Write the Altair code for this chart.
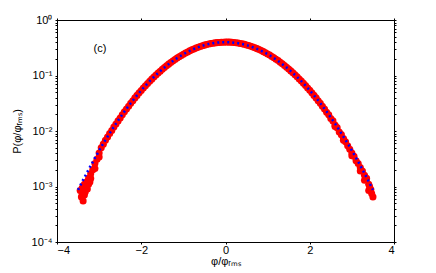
import altair as alt
import pandas as pd

# red measured points (x = phi/phi_rms, y = PDF)
red_x = [-3.45, -3.42, -3.40, -3.38, -3.35, -3.33, -3.30, -3.28, -3.25, -3.22, -3.20, -3.15, -3.10, -3.05,
         -3.00, -2.95, -2.90, -2.85, -2.80, -2.70, -2.60, -2.50, -2.40, -2.30, -2.20, -2.10, -2.00,
         -1.90, -1.80, -1.70, -1.60, -1.50, -1.40, -1.30, -1.20, -1.10, -1.00, -0.90, -0.80, -0.70,
         -0.60, -0.50, -0.40, -0.30, -0.20, -0.10, 0.00, 0.10, 0.20, 0.30, 0.40, 0.50, 0.60, 0.70,
         0.80, 0.90, 1.00, 1.10, 1.20, 1.30, 1.40, 1.50, 1.60, 1.70, 1.80, 1.90, 2.00, 2.10, 2.20,
         2.30, 2.40, 2.50, 2.60, 2.65, 2.70, 2.75, 2.80, 2.85, 2.90, 2.95, 3.00, 3.05, 3.10, 3.15,
         3.20, 3.25, 3.30, 3.35, 3.40, 3.42, 3.45, 3.47, 3.50,
         -3.40, -3.35, -3.30, -3.25, -3.20, -3.10, -3.00, 2.60, 2.80, 3.00, 3.20, 3.30, 3.40,
         -2.75, -2.65, -2.55, -2.45, -2.35, -2.25, -2.15, -2.05, -1.95, -1.85, -1.75, -1.65, -1.55,
         -1.45, -1.35, -1.25, -1.15, -1.05, -0.95, -0.85, -0.75, -0.65, -0.55, -0.45, -0.35, -0.25,
         -0.15, -0.05, 0.05, 0.15, 0.25, 0.35, 0.45, 0.55, 0.65, 0.75, 0.85, 0.95, 1.05, 1.15, 1.25,
         1.35, 1.45, 1.55, 1.65, 1.75, 1.85, 1.95, 2.05, 2.15, 2.25, 2.35, 2.45, 2.55]
red_y = [0.00085, 0.00065, 0.00095, 0.00055, 0.0011, 0.0008, 0.0012, 0.0009, 0.0014, 0.0012, 0.0017, 0.0020, 0.0026, 0.0031,
         0.0040, 0.0050, 0.0058, 0.0068, 0.0078, 0.0102, 0.0134, 0.0172, 0.0222, 0.0280, 0.0352, 0.0438, 0.0538,
         0.0652, 0.0788, 0.0938, 0.1105, 0.1292, 0.1495, 0.1712, 0.1940, 0.2178, 0.2420, 0.2660, 0.2898, 0.3125,
         0.3335, 0.3525, 0.3688, 0.3820, 0.3915, 0.3975, 0.3995, 0.3990, 0.3935, 0.3845, 0.3715, 0.3555, 0.3365,
         0.3155, 0.2930, 0.2690, 0.2448, 0.2205, 0.1965, 0.1735, 0.1515, 0.1310, 0.1122, 0.0950, 0.0795, 0.0658,
         0.0540, 0.0438, 0.0352, 0.0280, 0.0218, 0.0168, 0.0128, 0.0115, 0.0096, 0.0086, 0.0073, 0.0064, 0.0054,
         0.0047, 0.0040, 0.0035, 0.0029, 0.0026, 0.0022, 0.0019, 0.0016, 0.0014, 0.0011, 0.0010, 0.00088, 0.00075, 0.00065,
         0.00075, 0.00070, 0.00095, 0.0011, 0.0014, 0.0021, 0.0034, 0.0120, 0.0068, 0.0036, 0.0019, 0.0013, 0.00085,
         0.0090, 0.0118, 0.0152, 0.0196, 0.0250, 0.0316, 0.0395, 0.0488, 0.0594, 0.0718, 0.0860, 0.1020, 0.1197,
         0.1393, 0.1603, 0.1826, 0.2059, 0.2299, 0.2541, 0.2780, 0.3013, 0.3231, 0.3430, 0.3607, 0.3755, 0.3868,
         0.3945, 0.3985, 0.3995, 0.3965, 0.3895, 0.3785, 0.3640, 0.3465, 0.3262, 0.3045, 0.2812, 0.2572, 0.2330,
         0.2090, 0.1855, 0.1628, 0.1410, 0.1210, 0.1030, 0.0866, 0.0722, 0.0595, 0.0488, 0.0395, 0.0315, 0.0250, 0.0196, 0.0152]

# blue dotted reference curve
blue_x = [-3.5, -3.4, -3.3, -3.2, -3.1, -3.0, -2.9, -2.8, -2.7, -2.6, -2.5, -2.4, -2.3, -2.2, -2.1,
          -2.0, -1.9, -1.8, -1.7, -1.6, -1.5, -1.4, -1.3, -1.2, -1.1, -1.0, -0.9, -0.8, -0.7, -0.6,
          -0.5, -0.4, -0.3, -0.2, -0.1, 0.0, 0.1, 0.2, 0.3, 0.4, 0.5, 0.6, 0.7, 0.8, 0.9, 1.0, 1.1,
          1.2, 1.3, 1.4, 1.5, 1.6, 1.7, 1.8, 1.9, 2.0, 2.1, 2.2, 2.3, 2.4, 2.5, 2.6, 2.7, 2.8, 2.9,
          3.0, 3.1, 3.2, 3.3, 3.4, 3.5]
blue_y = [0.00087, 0.00123, 0.00172, 0.00238, 0.00327, 0.00443, 0.0060, 0.0079, 0.0104, 0.0136, 0.0175,
          0.0224, 0.0283, 0.0355, 0.0440, 0.0540, 0.0656, 0.0790, 0.0940, 0.1109, 0.1295, 0.1497, 0.1714,
          0.1942, 0.2179, 0.2420, 0.2661, 0.2897, 0.3123, 0.3332, 0.3521, 0.3683, 0.3814, 0.3910, 0.3970,
          0.3989, 0.3970, 0.3910, 0.3814, 0.3683, 0.3521, 0.3332, 0.3123, 0.2897, 0.2661, 0.2420, 0.2179,
          0.1942, 0.1714, 0.1497, 0.1295, 0.1109, 0.0940, 0.0790, 0.0656, 0.0540, 0.0440, 0.0355, 0.0283,
          0.0224, 0.0175, 0.0136, 0.0104, 0.0079, 0.0060, 0.00443, 0.00327, 0.00238, 0.00172, 0.00123, 0.00087]

x_ticks = [-4, -2, 0, 2, 4]
y_ticks = [0.0001, 0.001, 0.01, 0.1, 1]
y_minor = [m * d for d in [0.0001, 0.001, 0.01, 0.1] for m in range(1, 10)] + [1]

label_text = ["(c)"]
label_x = [-2.98]
label_y = [0.30]

FONT = "Liberation Sans"

red_df = pd.DataFrame({"x": red_x, "y": red_y})
blue_df = pd.DataFrame({"x": blue_x, "y": blue_y})
lab_df = pd.DataFrame({"t": label_text, "x": label_x, "y": label_y})

xscale = alt.Scale(domain=[-4, 4], nice=False, zero=False)
yscale = alt.Scale(type="log", domain=[0.0001, 1], nice=False)

ylab = ("datum.value == 1 ? '10\u2070' : datum.value == 0.1 ? '10\u207b\u00b9' : "
        "datum.value == 0.01 ? '10\u207b\u00b2' : datum.value == 0.001 ? '10\u207b\u00b3' : "
        "datum.value == 0.0001 ? '10\u207b\u2074' : ''")

x_axis = alt.Axis(values=x_ticks, title="\u03c6/\u03c6\u1d63\u2098\u209b", grid=False,
                  tickSize=2, labelPadding=0, domainColor="black", tickColor="black",
                  labelColor="black", titleColor="black", titleFontWeight="normal",
                  labelFont=FONT, titleFont=FONT, labelFontSize=11, titleFontSize=11,
                  titlePadding=0)
y_axis = alt.Axis(values=y_minor, labelExpr=ylab, title="P(\u03c6/\u03c6\u1d63\u2098\u209b)", grid=False,
                  tickSize=2, labelPadding=3, domainColor="black", tickColor="black",
                  labelColor="black", titleColor="black", titleFontWeight="normal",
                  labelFont=FONT, titleFont=FONT, labelFontSize=11, titleFontSize=11,
                  titlePadding=9, labelOverlap=False)

red = alt.Chart(red_df).mark_circle(size=50, color="#ff0000", opacity=1).encode(
    x=alt.X("x:Q", scale=xscale, axis=x_axis),
    y=alt.Y("y:Q", scale=yscale, axis=y_axis),
)

blue = alt.Chart(blue_df).mark_line(color="#0000ff", strokeWidth=2.5, strokeDash=[2, 3]).encode(
    x=alt.X("x:Q", scale=xscale, axis=alt.Axis(orient="top", values=x_ticks, labels=False, title=None,
                                                grid=False, tickSize=2, domainColor="black", tickColor="black")),
    y=alt.Y("y:Q", scale=yscale, axis=alt.Axis(orient="right", values=y_minor, labels=False, title=None,
                                                grid=False, tickSize=2, domainColor="black", tickColor="black")),
)

text = alt.Chart(lab_df).mark_text(font=FONT, fontSize=11, color="black").encode(
    x=alt.X("x:Q", scale=xscale, axis=None),
    y=alt.Y("y:Q", scale=yscale, axis=None),
    text="t:N",
)

chart = alt.layer(red, blue, text).resolve_axis(x="independent", y="independent").properties(
    width=337, height=222,
    autosize=alt.AutoSizeParams(type="none"),
    padding={"left": 49, "top": 12, "right": 34, "bottom": 28},
).configure_view(stroke="black", strokeWidth=1)

chart.save("out.html", embed_options={"renderer": "svg", "actions": False})
